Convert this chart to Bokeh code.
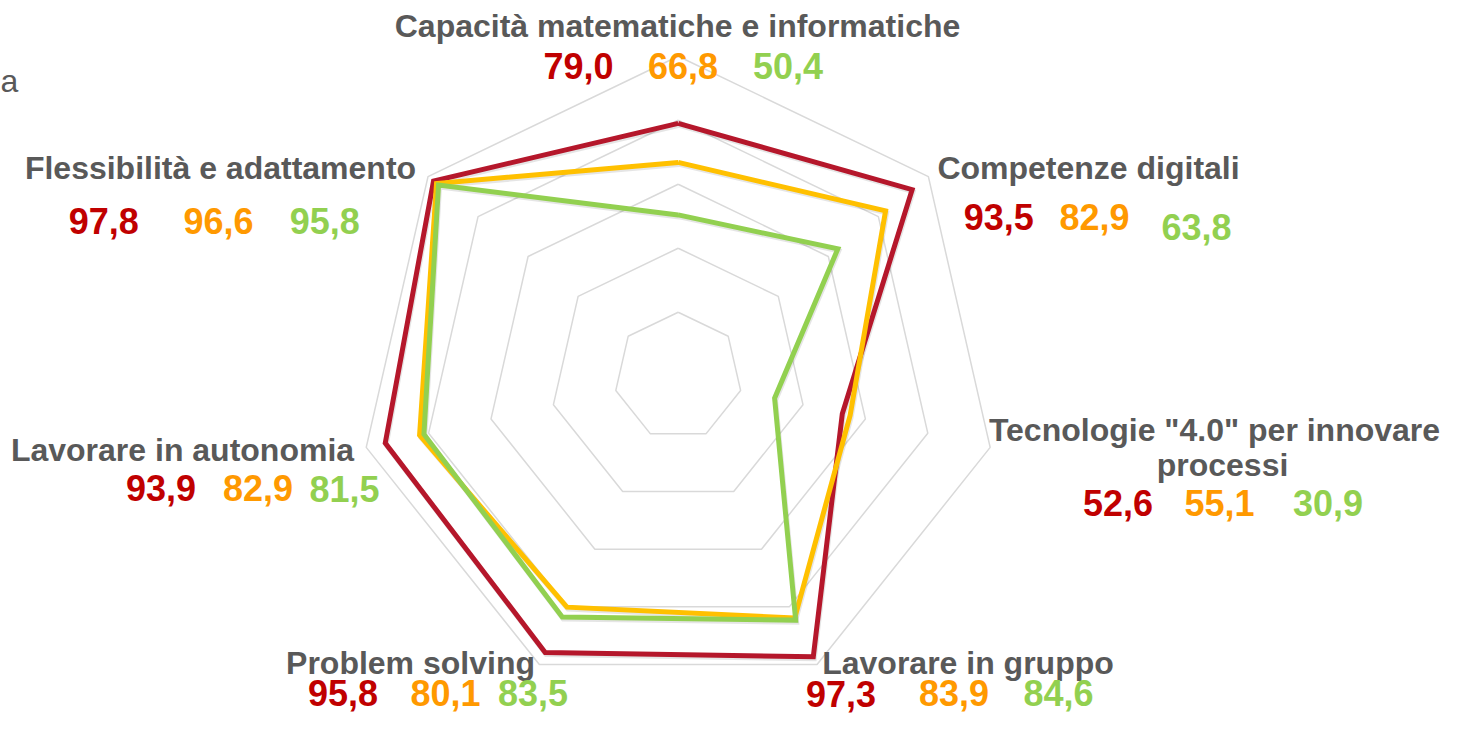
import numpy as np
from bokeh.plotting import figure
from bokeh.models import Range1d
from bokeh.embed import file_html
from bokeh.resources import INLINE
from bokeh.core.properties import value

# ---------------- data ----------------
categories = [
    "Capacità matematiche e informatiche",
    "Competenze digitali",
    'Tecnologie "4.0" per innovare\nprocessi',
    "Lavorare in gruppo",
    "Problem solving",
    "Lavorare in autonomia",
    "Flessibilità e adattamento",
]
red_values = [79.0, 93.5, 52.6, 97.3, 95.8, 93.9, 97.8]
orange_values = [66.8, 82.9, 55.1, 83.9, 80.1, 82.9, 96.6]
green_values = [50.4, 63.8, 30.9, 84.6, 83.5, 81.5, 95.8]
grid_levels = [20, 40, 60, 80, 100]
legend_text = "a"

# ---------------- styles ----------------
line_colors = ["#B5172B", "#FFC000", "#92D050"]
number_colors = ["#C00000", "#FF9900", "#92D050"]
label_color = "#595959"
grid_color = "#D9D9D9"
FONT = value("Liberation Sans")
LABEL_SIZE, NUMBER_SIZE = 32, 36
BASELINE_FIX = 0.36  # em, compensates baseline placement of the renderer

# layout in reference-image pixels (center, scale)
CX, CY, S = 677.7, 375.7, 3.2
W, H = 1442, 715


def dx(X):
    return (X - CX) / S


def dy(Y):
    return (CY - Y) / S


# label placement per category: label x centers / baselines, number x centers / baselines
label_layout = [
    dict(lx=[677], ly=[37], nx=[578, 682.5, 787.5], ny=[78, 78, 78]),
    dict(lx=[1088], ly=[179.5], nx=[998.3, 1094, 1196], ny=[229.5, 229.5, 239.5]),
    dict(lx=[1214, 1222], ly=[441.5, 476], nx=[1117.5, 1219, 1327.5], ny=[515, 515, 515]),
    dict(lx=[967.5], ly=[674], nx=[840.5, 953.5, 1058], ny=[706, 705, 705]),
    dict(lx=[410], ly=[674], nx=[342.5, 445, 532.5], ny=[705, 705, 705]),
    dict(lx=[182], ly=[461], nx=[160.5, 257.5, 344], ny=[500, 500, 501]),
    dict(lx=[220], ly=[179.5], nx=[103.3, 218, 324.2], ny=[233.5, 233.5, 233.5]),
]

p = figure(
    width=W, height=H,
    x_range=Range1d(dx(0), dx(W)),
    y_range=Range1d(dy(H), dy(0)),
    output_backend="svg", toolbar_location=None,
    min_border=0, outline_line_color=None,
)
p.axis.visible = False
p.grid.visible = False
p.background_fill_color = "white"
p.border_fill_color = "white"

n = len(categories)
angles = np.pi / 2 - np.arange(n) * 2 * np.pi / n
cos_a = np.append(np.cos(angles), np.cos(angles[0]))
sin_a = np.append(np.sin(angles), np.sin(angles[0]))

# grid rings
for lev in grid_levels:
    p.line(lev * cos_a, lev * sin_a, line_color=grid_color, line_width=1.5)

# series
series = [red_values, orange_values, green_values]
for vals in series:
    v = np.append(np.array(vals), vals[0])
    # faint shadow
    p.line(v * cos_a + 1 / S, v * sin_a - 2 / S, line_color="#000000",
           line_alpha=0.10, line_width=5, line_join="miter")
for vals, col in zip(series, line_colors):
    v = np.append(np.array(vals), vals[0])
    p.line(v * cos_a, v * sin_a, line_color=col, line_width=5, line_join="miter")

lab_fix = BASELINE_FIX * LABEL_SIZE
num_fix = BASELINE_FIX * NUMBER_SIZE

# category labels and values
for i, cat in enumerate(categories):
    lay = label_layout[i]
    for line_txt, lx, ly in zip(cat.split("\n"), lay["lx"], lay["ly"]):
        p.text(x=[dx(lx)], y=[dy(ly - lab_fix)], text=[line_txt], text_font=FONT,
               text_font_style="bold", text_font_size=f"{LABEL_SIZE}px",
               text_color=label_color, text_align="center",
               text_baseline="alphabetic")
    for k, vals in enumerate(series):
        txt = f"{vals[i]:.1f}".replace(".", ",")
        p.text(x=[dx(lay["nx"][k])], y=[dy(lay["ny"][k] - num_fix)], text=[txt],
               text_font=FONT, text_font_style="bold",
               text_font_size=f"{NUMBER_SIZE}px",
               text_color=number_colors[k], text_align="center",
               text_baseline="alphabetic")

# truncated legend text at top-left
p.text(x=[dx(0)], y=[dy(92.5 - lab_fix)], text=[legend_text], text_font=FONT,
       text_font_size=f"{LABEL_SIZE}px", text_color=label_color, text_align="left",
       text_baseline="alphabetic")

open("out.html", "w").write(file_html(p, INLINE))
